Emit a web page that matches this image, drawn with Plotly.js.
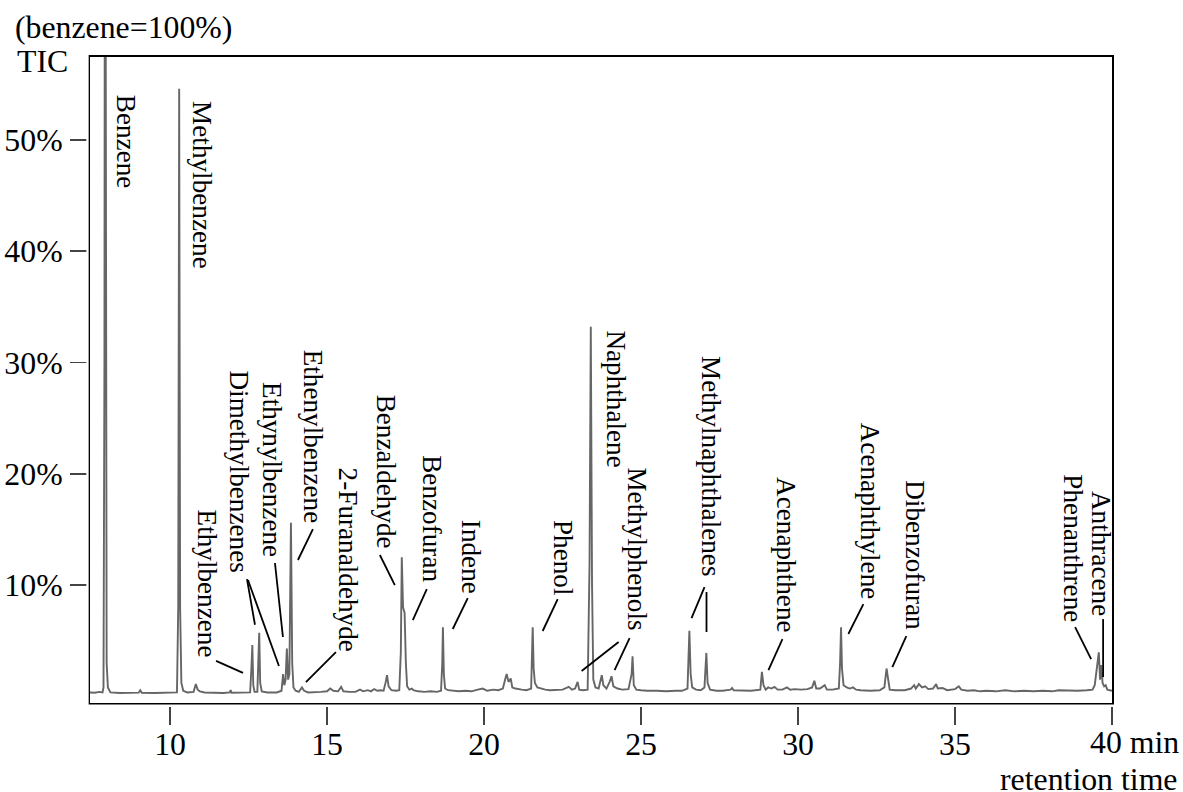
<!DOCTYPE html>
<html>
<head>
<meta charset="utf-8">
<script src="https://cdn.plot.ly/plotly-3.0.1.min.js"></script>
<style>html,body{margin:0;padding:0;background:#fff;}#chart{width:1183px;height:792px;}</style>
</head>
<body>
<div id="chart"></div>
<script>
// ---- DATA ----
// retention time (min)
const retentionTime = [
  7.45, 7.60, 7.75, 7.85, 7.88, 7.91, 7.93, 7.955, 7.98, 8.02, 8.10, 8.40, 8.70, 9.00, 9.05, 9.10, 9.50, 9.90,
  10.22, 10.26, 10.29, 10.32, 10.36, 10.42, 10.55, 10.75, 10.82, 10.88, 10.95, 11.1, 11.4, 11.7, 11.9, 11.93, 11.96,
  12.3, 12.55, 12.59, 12.62, 12.65, 12.69, 12.78, 12.81, 12.84, 12.87, 12.92, 13.1, 13.4, 13.55, 13.6, 13.64, 13.68,
  13.72, 13.76, 13.8, 13.85, 13.89, 13.93, 14.0, 14.1, 14.2, 14.27, 14.4, 14.6, 14.8, 15.0, 15.1, 15.2, 15.35, 15.45,
  15.52, 15.7, 15.9, 16.05, 16.15, 16.3, 16.4, 16.5, 16.6, 16.7, 16.8, 16.87, 16.91, 16.96, 17.05, 17.2, 17.3, 17.35,
  17.38, 17.42, 17.47, 17.51, 17.55, 17.62, 17.7, 17.75, 17.9, 18.1, 18.3, 18.5, 18.63, 18.67, 18.69, 18.72, 18.76,
  18.85, 19.0, 19.2, 19.4, 19.6, 19.8, 19.96, 20.1, 20.3, 20.45, 20.6, 20.68, 20.72, 20.78, 20.85, 20.9, 21.0, 21.2,
  21.35, 21.5, 21.53, 21.55, 21.58, 21.62, 21.7, 21.8, 21.95, 22.1, 22.3, 22.5, 22.7, 22.8, 22.9, 22.98, 23.03, 23.15,
  23.3, 23.36, 23.40, 23.44, 23.48, 23.55, 23.65, 23.75, 23.8, 23.9, 24.0, 24.06, 24.12, 24.25, 24.4, 24.6, 24.7,
  24.73, 24.77, 24.85, 25.0, 25.2, 25.5, 25.8, 26.1, 26.3, 26.48, 26.52, 26.54, 26.58, 26.63, 26.75, 26.9, 27.02,
  27.05, 27.08, 27.12, 27.2, 27.4, 27.6, 27.85, 27.9, 27.95, 28.2, 28.5, 28.8, 28.85, 28.9, 28.97, 29.05, 29.15, 29.25,
  29.35, 29.5, 29.65, 29.75, 29.9, 30.1, 30.3, 30.45, 30.52, 30.58, 30.7, 30.85, 30.92, 31.1, 31.3, 31.34, 31.37, 31.4,
  31.45, 31.55, 31.65, 31.75, 31.85, 32.0, 32.3, 32.6, 32.75, 32.82, 32.86, 32.92, 33.1, 33.4, 33.6, 33.7, 33.75,
  33.85, 33.95, 34.05, 34.15, 34.3, 34.4, 34.45, 34.6, 34.75, 35.0, 35.12, 35.2, 35.4, 35.6, 35.8, 36.0, 36.3, 36.6,
  36.9, 37.2, 37.5, 37.8, 38.1, 38.3, 38.6, 38.9, 39.2, 39.38, 39.45, 39.5, 39.58, 39.62, 39.66, 39.7, 39.75, 39.8,
  39.85, 40.0
];
// total ion current, % of benzene peak
const ticPercent = [
  0.35, 0.32, 0.40, 0.35, 0.8, 30, 100, 30, 3, 0.8, 0.35, 0.30, 0.30, 0.33, 0.55, 0.32, 0.30, 0.30,
  0.35, 8, 54.6, 8, 1.2, 0.5, 0.35, 0.40, 1.1, 0.6, 0.45, 0.35, 0.3, 0.3, 0.35, 0.55, 0.32,
  0.3, 0.35, 2.5, 4.6, 1.0, 0.4, 0.4, 3, 5.7, 1.2, 0.45, 0.35, 0.35, 0.5, 2.0, 1.0, 1.5,
  4.3, 1.5, 2.0, 15.6, 3, 0.8, 0.5, 0.4, 0.8, 0.5, 0.35, 0.35, 0.4, 0.45, 0.7, 0.5, 0.45, 0.85,
  0.45, 0.4, 0.4, 0.6, 0.45, 0.55, 0.45, 0.65, 0.5, 0.55, 0.5, 1.3, 1.9, 0.9, 0.55, 0.5, 0.55, 4,
  12.5, 8, 7.5, 3, 0.9, 0.6, 0.7, 0.55, 0.45, 0.4, 0.45, 0.4, 0.5, 3, 6.2, 2, 0.7,
  0.55, 0.5, 0.45, 0.5, 0.45, 0.6, 0.7, 0.5, 0.6, 0.55, 0.7, 1.6, 2.0, 1.3, 1.6, 0.8, 0.7, 0.6,
  0.55, 0.7, 3, 6.2, 2.5, 1.2, 0.8, 0.7, 0.6, 0.55, 0.6, 0.6, 0.85, 0.6, 0.7, 1.3, 0.6, 0.55,
  0.6, 12, 33.2, 10, 1.5, 0.8, 0.7, 1.9, 1.0, 0.7, 1.3, 1.8, 0.9, 0.7, 0.6, 0.65, 2,
  3.6, 1.0, 0.6, 0.55, 0.5, 0.5, 0.45, 0.5, 0.5, 0.7, 4, 5.9, 2, 0.8, 0.6, 0.55, 0.8,
  3, 3.9, 1.2, 0.6, 0.5, 0.5, 0.6, 0.75, 0.55, 0.5, 0.5, 0.6, 2.2, 1.0, 0.6, 0.8, 0.7, 0.85,
  0.6, 0.6, 0.8, 0.6, 0.65, 0.6, 0.65, 0.8, 1.4, 0.7, 0.7, 1.0, 0.6, 0.6, 0.7, 3, 6.2, 2.5,
  1.0, 0.8, 0.7, 0.8, 0.6, 0.55, 0.5, 0.55, 0.8, 2.5, 1.5, 0.6, 0.55, 0.55, 0.7, 1.0, 0.7,
  1.1, 0.8, 0.9, 0.65, 0.7, 1.1, 0.7, 0.75, 0.55, 0.65, 0.9, 0.6, 0.5, 0.55, 0.45, 0.5, 0.45, 0.55,
  0.45, 0.5, 0.45, 0.5, 0.45, 0.55, 0.5, 0.5, 0.55, 0.6, 1.0, 2, 3.95, 1.5, 2.8, 1.2, 0.9, 1.0,
  0.6, 0.5
];
// peak labels
const peakNames = [
  "Benzene", "Methylbenzene", "Ethylbenzene", "Dimethylbenzenes", "Ethynylbenzene", "Ethenylbenzene",
  "2-Furanaldehyde", "Benzaldehyde", "Benzofuran", "Indene", "Phenol", "Naphthalene", "Methylphenols",
  "Methylnaphthalenes", "Acenaphthene", "Acenaphthylene", "Dibenzofuran", "Phenanthrene", "Anthracene"
];
// x-axis ticks
const xTickVals = [10, 15, 20, 25, 30, 35, 40];
const xTickText = ["10", "15", "20", "25", "30", "35", ""];
// y-axis ticks
const yTickVals = [10, 20, 30, 40, 50];
const yTickText = ["10%", "20%", "30%", "40%", "50%"];

// ---- LAYOUT HELPERS (label placement, in axis units: min, %) ----
const labelPos = [
  [8.536, 53.82], [10.955, 53.26], [11.114, 16.56], [12.132, 29.06], [13.182, 27.98], [14.518, 30.94],
  [15.632, 20.34], [16.841, 26.90], [18.272, 21.42], [19.545, 15.66], [22.472, 15.66], [24.127, 32.65],
  [24.795, 20.34], [27.181, 30.40], [29.568, 19.44], [32.240, 24.38], [33.672, 19.17], [38.699, 19.71],
  [39.590, 18.27]
];
const labelShiftX = 0.064, labelShiftY = 0.40;
const leaderLines = [
  [11.464, 3.18, 12.323, 2.11],
  [12.450, 10.54, 12.704, 6.43],
  [12.482, 10.45, 13.468, 2.72],
  [13.341, 11.98, 13.595, 5.33],
  [14.550, 15.03, 14.073, 12.25],
  [15.282, 3.98, 14.327, 1.28],
  [16.682, 12.70, 17.159, 10.00],
  [18.177, 9.64, 17.731, 6.85],
  [19.481, 8.83, 19.004, 6.05],
  [22.345, 8.74, 21.868, 5.87],
  [24.286, 4.88, 23.108, 2.27],
  [24.636, 5.24, 24.158, 2.36],
  [27.022, 9.82, 26.608, 7.03],
  [27.085, 9.37, 27.085, 5.78],
  [29.504, 5.15, 29.058, 2.36],
  [32.081, 8.29, 31.603, 5.60],
  [33.449, 5.42, 33.004, 2.63],
  [38.826, 6.22, 39.335, 3.35],
  [39.717, 6.94, 39.717, 1.73]
];

const serif = "Liberation Serif, Times New Roman, serif";
const bigFont = {family: serif, size: 31.8, color: "#000"};

const annotations = peakNames.map((name, i) => ({
  text: name, x: labelPos[i][0] + labelShiftX, y: labelPos[i][1] + labelShiftY, xref: "x", yref: "y",
  xanchor: "center", yanchor: "top", textangle: 90, showarrow: false,
  font: {family: serif, size: 27.2, color: "#000"}
}));
annotations.push(
  {text: "(benzene=100%)", xref: "paper", yref: "paper", x: -0.0753, y: 1.0449, xanchor: "left", yanchor: "middle",
   showarrow: false, font: bigFont},
  {text: "TIC", xref: "paper", yref: "paper", x: -0.0734, y: 0.9923, xanchor: "left", yanchor: "middle",
   showarrow: false, font: bigFont},
  {text: "40 min", xref: "paper", yref: "paper", x: 0.9765, y: -0.0619, xanchor: "left", yanchor: "middle",
   showarrow: false, font: bigFont},
  {text: "retention time", xref: "paper", yref: "paper", x: 1.0655, y: -0.119, xanchor: "right", yanchor: "middle",
   showarrow: false, font: bigFont}
);

const shapes = leaderLines.map(l => ({
  type: "line", xref: "x", yref: "y", x0: l[0], y0: l[1], x1: l[2], y1: l[3],
  line: {color: "#000", width: 1.8}
}));
// small white gaps between frame and tick marks
shapes.push(
  {type: "rect", xref: "paper", yref: "paper", x0: -0.02, x1: 1.02, y0: -0.0025, y1: -0.0062,
   line: {width: 0}, fillcolor: "#fff", layer: "above"},
  {type: "rect", xref: "paper", yref: "paper", x0: -0.0036, x1: -0.0013, y0: -0.01, y1: 1.01,
   line: {width: 0}, fillcolor: "#fff", layer: "above"}
);

const trace = {
  x: retentionTime, y: ticPercent, type: "scatter", mode: "lines",
  line: {color: "#666", width: 1.9}, hoverinfo: "skip"
};

const layout = {
  width: 1183, height: 792,
  margin: {l: 90, r: 71, t: 57, b: 89, pad: 0},
  paper_bgcolor: "#fff", plot_bgcolor: "#fff",
  showlegend: false,
  xaxis: {
    range: [7.45, 40], showgrid: false, zeroline: false,
    showline: true, mirror: true, linecolor: "#000", linewidth: 2,
    ticks: "outside", ticklen: 20, tickwidth: 1.5, tickcolor: "#444",
    tickvals: xTickVals, ticktext: xTickText, ticklabelstandoff: -8,
    tickfont: bigFont
  },
  yaxis: {
    range: [-0.6, 57.45], showgrid: false, zeroline: false,
    showline: true, mirror: true, linecolor: "#000", linewidth: 2,
    ticks: "outside", ticklen: 18, tickwidth: 1.5, tickcolor: "#444",
    tickvals: yTickVals, ticktext: yTickText, ticklabelstandoff: 1,
    tickfont: bigFont
  },
  annotations: annotations,
  shapes: shapes
};

Plotly.newPlot("chart", [trace], layout, {displayModeBar: false, staticPlot: true});
</script>
</body>
</html>
